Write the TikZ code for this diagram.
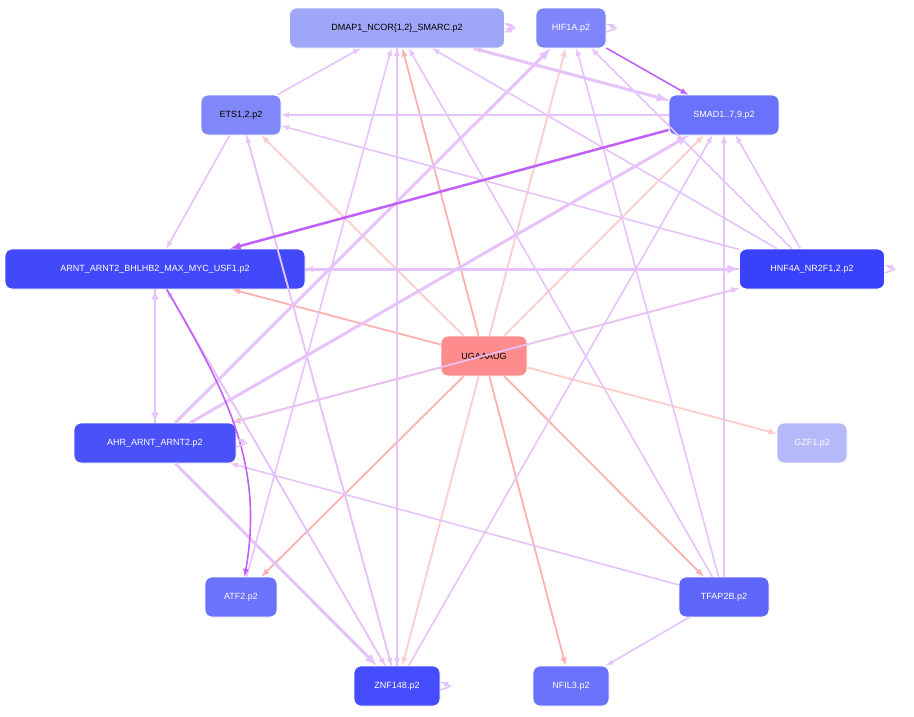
\documentclass[tikz,border=0pt]{standalone}
\usepackage{fontspec}
\setmainfont{Liberation Sans}
\usetikzlibrary{positioning}
\definecolor{redA}{HTML}{FFB0B0}
\definecolor{redB}{HTML}{FFCCCC}
\definecolor{purA}{HTML}{E6C3FB}
\definecolor{purB}{HTML}{C060F8}
\tikzset{
  gene/.style={draw=white, thick, rounded corners=7pt, minimum height=40pt, inner sep=6pt, font=\fontsize{9}{10}\selectfont},
  motif/.style={gene, fill=red!45, text=black},
  ed/.style={->, >=latex, line width=1.6pt, draw=purA},
  edr/.style={->, >=latex, line width=1.8pt, draw=redA},
  loop/.style={ed, looseness=4, out=20, in=-20}
}
\begin{document}
\begin{tikzpicture}[x=1pt, y=-1pt]
\useasboundingbox (0,0) rectangle (914,716);
% genes
\node[gene, fill={rgb,255:red,159;green,166;blue,248}, minimum width=215pt] (dmap) at (397,28) {DMAP1\_NCOR\{1,2\}\_SMARC.p2};
\node[gene, fill={rgb,255:red,127;green,134;blue,251}, text=white, minimum width=70pt] (hif) at (571,28) {HIF1A.p2};
\node[gene, fill={rgb,255:red,128;green,135;blue,249}, minimum width=80pt] (ets) at (241,115) {ETS1,2.p2};
\node[gene, fill={rgb,255:red,106;green,113;blue,251}, text=white, minimum width=110pt] (smad) at (724,115) {SMAD1..7,9.p2};
\node[gene, fill={rgb,255:red,66;green,73;blue,251}, text=white, minimum width=300pt] (arnt) at (155,269) {ARNT\_ARNT2\_BHLHB2\_MAX\_MYC\_USF1.p2};
\node[gene, fill={rgb,255:red,58;green,65;blue,251}, text=white, minimum width=145pt] (hnf) at (812,269) {HNF4A\_NR2F1,2.p2};
\node[motif, minimum width=86pt] (ug) at (484,356) {UGAAAUG};
\node[gene, fill={rgb,255:red,74;green,81;blue,249}, text=white, minimum width=162pt] (ahr) at (155,443) {AHR\_ARNT\_ARNT2.p2};
\node[gene, fill={rgb,255:red,181;green,185;blue,249}, text=white, minimum width=70pt] (gzf) at (812,443) {GZF1.p2};
\node[gene, fill={rgb,255:red,107;green,114;blue,251}, text=white, minimum width=72pt] (atf) at (241,597) {ATF2.p2};
\node[gene, fill={rgb,255:red,95;green,102;blue,251}, text=white, minimum width=90pt] (tfap) at (724,597) {TFAP2B.p2};
\node[gene, fill={rgb,255:red,69;green,76;blue,251}, text=white, minimum width=86pt] (znf) at (397,686) {ZNF148.p2};
\node[gene, fill={rgb,255:red,106;green,113;blue,251}, text=white, minimum width=76pt] (nfil) at (571,686) {NFIL3.p2};
% motif edges
\foreach \t/\c in {arnt/redA, ahr/redA, atf/redA, znf/redB, nfil/redA, tfap/redA, gzf/redB, hnf/redB, smad/redB, hif/redB, dmap/redA, ets/redB}
  \draw[edr, draw=\c] (ug) -- (\t);
% regulatory edges
\begin{pgfonlayer}{main}
\foreach \s/\t in {ets/dmap, ets/arnt, smad/ets, hnf/ets, hnf/dmap, hnf/hif, smad/dmap, hnf/smad, tfap/smad, znf/dmap, znf/ets, znf/arnt, atf/dmap, znf/smad, tfap/dmap, tfap/hif, tfap/ahr, tfap/nfil, dmap/znf, ahr/hnf, arnt/znf, hnf/arnt, ets/znf}
  \draw[ed] (\s) -- (\t);
\end{pgfonlayer}
\draw[ed, line width=3pt] (arnt) -- (hnf);
\draw[ed, line width=3pt] (ahr) -- (hif);
\draw[ed, line width=3pt] (ahr) -- (smad);
\draw[ed, line width=3pt] (ahr) -- (znf);
\draw[ed, line width=2.5pt] (arnt) -- (ahr);
\draw[ed, line width=2.5pt] (ahr) -- (arnt);
\draw[ed, line width=3pt] (dmap) -- (smad);
\draw[ed, draw=purB] (hif) -- (smad);
\draw[ed, draw=purB, line width=2.5pt] (smad) -- (arnt);
\draw[ed, draw=purB] (arnt) to[out=-60, in=80] (atf);
% self loops
\draw[loop] (dmap.east) ++(0,-4) to (dmap.east);
\draw[loop] ([yshift=-4pt]dmap.east) to ([yshift=4pt]dmap.east);
\draw[loop] ([yshift=-4pt]hif.east) to ([yshift=4pt]hif.east);
\draw[loop] ([yshift=-4pt]hnf.east) to ([yshift=4pt]hnf.east);
\draw[loop] ([yshift=-4pt]znf.east) to ([yshift=4pt]znf.east);
\draw[loop] ([yshift=-4pt]ahr.east) to ([yshift=4pt]ahr.east);
\end{tikzpicture}
\end{document}
